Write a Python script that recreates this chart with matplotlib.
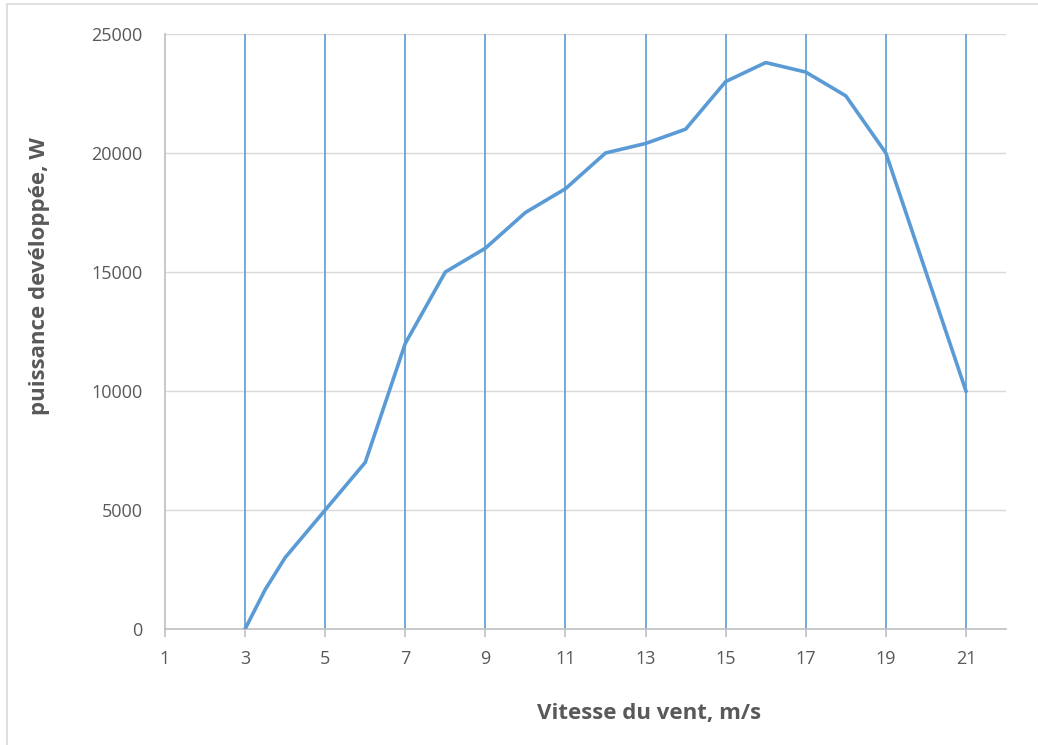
import matplotlib.pyplot as plt
from matplotlib.patches import Rectangle

# Wind speed (m/s) and developed power (W)
vitesse = [3, 3.5, 4, 5, 6, 7, 8, 9, 10, 11, 12, 13, 14, 15, 16, 17, 18, 19, 20, 21]
puissance = [0, 1650, 3000, 5000, 7000, 12000, 15000, 16000, 17500, 18500,
             20000, 20400, 21000, 23000, 23800, 23400, 22400, 20000, 15000, 10000]

x_ticks = [1, 3, 5, 7, 9, 11, 13, 15, 17, 19, 21]
y_ticks = [0, 5000, 10000, 15000, 20000, 25000]

plt.rcParams['font.family'] = ['Open Sans', 'DejaVu Sans']

W, H = 1038, 745
fig = plt.figure(figsize=(W / 100, H / 100), dpi=100)
ax = fig.add_axes([165 / W, 1 - 629 / H, (1006 - 165) / W, (629 - 34) / H])

# outer chart frame
fig.patches.append(Rectangle((7 / W, -0.01), 1.0, 1 - 4 / H + 0.01,
                             transform=fig.transFigure, fill=False,
                             edgecolor='#D9D9D9', linewidth=1.2))

ax.set_xlim(1, 22)
ax.set_ylim(0, 25000)
ax.set_xticks(x_ticks)
ax.set_yticks(y_ticks)

for y in y_ticks[1:]:
    ax.axhline(y, color='#D9D9D9', linewidth=1.0, zorder=1)
for x in x_ticks[1:]:
    ax.axvline(x, color='#5B9BD5', linewidth=1.2, zorder=1)

ax.plot(vitesse, puissance, color='#5B9BD5', linewidth=2.6,
        solid_joinstyle='round', zorder=3)

for side in ['top', 'right']:
    ax.spines[side].set_visible(False)
for side in ['left', 'bottom']:
    ax.spines[side].set_color('#BFBFBF')
    ax.spines[side].set_linewidth(1.2)

ax.tick_params(axis='x', direction='out', length=6, width=1.2, color='#BFBFBF',
               labelsize=13, labelcolor='#595959', pad=9)
ax.tick_params(axis='y', length=0, labelsize=13, labelcolor='#595959', pad=16)

# axis titles
fig.text(649 / W, 1 - 714 / H, 'Vitesse du vent, m/s', fontsize=16,
         fontweight='bold', color='#595959', ha='center', va='center')
fig.text(40 / W, 1 - 276 / H, 'puissance devéloppée, W', fontsize=16,
         fontweight='bold', color='#595959', ha='center', va='center',
         rotation=90)

fig.savefig('out.png', dpi=100, facecolor='white')
